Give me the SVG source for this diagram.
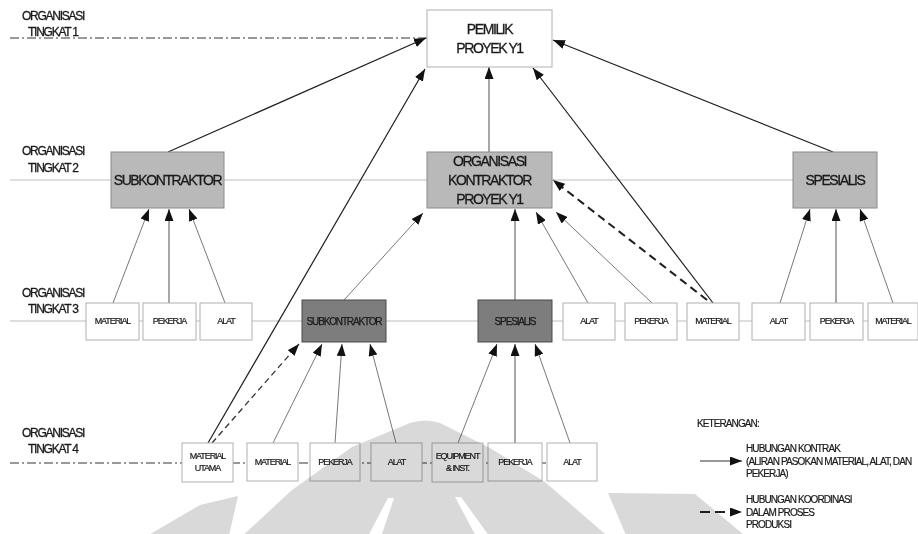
<svg xmlns="http://www.w3.org/2000/svg" width="918" height="534" viewBox="0 0 918 534">
<style>
text{font-family:"Liberation Sans",Arial,sans-serif;fill:#1a1a1a;stroke:#1a1a1a;stroke-width:0.3px;}
.lvl{font-size:12px;letter-spacing:-1.25px;}
.big{font-size:14px;letter-spacing:-1.4px;text-anchor:middle;}
.sm{font-size:9px;letter-spacing:-1.1px;text-anchor:middle;stroke-width:0.2px;}
.sk3{font-size:10px;letter-spacing:-1.15px;text-anchor:middle;stroke-width:0.25px;}
.leg{font-size:10px;letter-spacing:-0.9px;stroke-width:0.2px;}
.wbox{fill:#fff;stroke:#b0b0b0;stroke-width:1;}
.gbox{fill:#b9b9b9;stroke:#8a8a8a;stroke-width:1;}
.dbox{fill:#7d7d7d;stroke:#4a4a4a;stroke-width:1;}
.main{stroke:#1e1e1e;stroke-width:1.2;fill:none;marker-end:url(#ah);}
.thin{stroke:#555;stroke-width:0.8;fill:none;marker-end:url(#ah);}
.vert{stroke:#7a7a7a;stroke-width:1.3;fill:none;marker-end:url(#ah);}
.dash{stroke:#1e1e1e;stroke-width:2;stroke-dasharray:8 5;fill:none;marker-end:url(#ah);}
.dash2{stroke:#333;stroke-width:1.3;stroke-dasharray:6 4;fill:none;marker-end:url(#ah);}
.dd{stroke:#333;stroke-width:1;stroke-dasharray:9 3 2 3;fill:none;}
.sl{stroke:#bdbdbd;stroke-width:1.2;fill:none;}
</style>
<defs>
<marker id="ah" markerUnits="userSpaceOnUse" markerWidth="12" markerHeight="9" refX="12" refY="4.5" orient="auto">
<path d="M0,0 L12,4.5 L0,9 z" fill="#111"/>
</marker>
</defs>
<rect width="918" height="534" fill="#fff"/>

<g id="level-lines">
<line class="dd" x1="10" y1="38" x2="427" y2="38"/>
<line class="sl" x1="10" y1="180" x2="793" y2="180"/>
<line class="sl" x1="10" y1="321" x2="918" y2="321"/>
<line class="dd" x1="10" y1="463" x2="547" y2="463"/>
</g>

<g id="level-labels">
<text class="lvl" x="22" y="20">ORGANISASI</text>
<text class="lvl" x="28" y="36">TINGKAT 1</text>
<text class="lvl" x="22" y="155">ORGANISASI</text>
<text class="lvl" x="28" y="172">TINGKAT 2</text>
<text class="lvl" x="22" y="297">ORGANISASI</text>
<text class="lvl" x="28" y="313">TINGKAT 3</text>
<text class="lvl" x="22" y="437">ORGANISASI</text>
<text class="lvl" x="28" y="453">TINGKAT 4</text>
</g>

<g id="connectors">
<line class="main" x1="168" y1="152" x2="426" y2="38"/>
<line class="vert" x1="489" y1="152" x2="489" y2="67"/>
<line class="main" x1="833" y1="152" x2="553" y2="40"/>
<line class="main" x1="713" y1="303" x2="533" y2="68"/>
<line class="main" x1="208" y1="443" x2="425" y2="69"/>
<line class="thin" x1="113" y1="303" x2="149" y2="209"/>
<line class="vert" x1="169" y1="303" x2="169" y2="209"/>
<line class="thin" x1="225" y1="303" x2="189" y2="209"/>
<line class="thin" x1="344" y1="300" x2="423" y2="213"/>
<line class="vert" x1="515" y1="300" x2="515" y2="209"/>
<line class="thin" x1="588" y1="303" x2="536" y2="212"/>
<line class="thin" x1="652" y1="303" x2="556" y2="212"/>
<line class="dash" x1="707" y1="300" x2="553" y2="180"/>
<line class="thin" x1="780" y1="303" x2="810" y2="209"/>
<line class="vert" x1="836" y1="303" x2="836" y2="209"/>
<line class="thin" x1="893" y1="303" x2="860" y2="209"/>
<line class="dash2" x1="212" y1="443" x2="299" y2="344"/>
<line class="thin" x1="273" y1="443" x2="322" y2="344"/>
<line class="thin" x1="335" y1="443" x2="342" y2="344"/>
<line class="thin" x1="396" y1="443" x2="370" y2="344"/>
<line class="thin" x1="458" y1="443" x2="497" y2="344"/>
<line class="vert" x1="515" y1="443" x2="515" y2="344"/>
<line class="thin" x1="570" y1="443" x2="535" y2="344"/>
</g>

<g id="pemilik"><rect class="wbox" x="427" y="10" width="125" height="57"/>
<text class="big" x="489.5" y="34">PEMILIK</text><text class="big" x="489.5" y="53">PROYEK Y1</text></g>

<g id="subkontraktor-2"><rect class="gbox" x="111" y="152" width="113" height="56"/>
<text class="big" x="167.5" y="185">SUBKONTRAKTOR</text></g>
<g id="kontraktor"><rect class="gbox" x="427" y="152" width="125" height="56"/>
<text class="big" x="489.5" y="165.5">ORGANISASI</text><text class="big" x="489.5" y="185">KONTRAKTOR</text><text class="big" x="489.5" y="204">PROYEK Y1</text></g>
<g id="spesialis-2"><rect class="gbox" x="793" y="152" width="84" height="56"/>
<text class="big" x="835" y="185">SPESIALIS</text></g>

<g id="l3-material-a"><rect class="wbox" x="86" y="303" width="53" height="37"/><text class="sm" x="112.5" y="324">MATERIAL</text></g>
<g id="l3-pekerja-a"><rect class="wbox" x="143" y="303" width="53" height="37"/><text class="sm" x="169.5" y="324">PEKERJA</text></g>
<g id="l3-alat-a"><rect class="wbox" x="200" y="303" width="52" height="37"/><text class="sm" x="226" y="324">ALAT</text></g>
<g id="subkontraktor-3"><rect class="dbox" x="302" y="300" width="84" height="42"/><text class="sk3" x="344" y="325">SUBKONTRAKTOR</text></g>
<g id="spesialis-3"><rect class="dbox" x="478" y="300" width="74" height="42"/><text class="sk3" x="515" y="325">SPESIALIS</text></g>
<g id="l3-alat-b"><rect class="wbox" x="563" y="303" width="52" height="37"/><text class="sm" x="589" y="324">ALAT</text></g>
<g id="l3-pekerja-b"><rect class="wbox" x="625" y="303" width="52" height="37"/><text class="sm" x="651" y="324">PEKERJA</text></g>
<g id="l3-material-b"><rect class="wbox" x="687" y="303" width="52" height="37"/><text class="sm" x="713" y="324">MATERIAL</text></g>
<g id="l3-alat-c"><rect class="wbox" x="752" y="303" width="53" height="37"/><text class="sm" x="778.5" y="324">ALAT</text></g>
<g id="l3-pekerja-c"><rect class="wbox" x="810" y="303" width="53" height="37"/><text class="sm" x="836.5" y="324">PEKERJA</text></g>
<g id="l3-material-c"><rect class="wbox" x="868" y="303" width="50" height="37"/><text class="sm" x="893" y="324">MATERIAL</text></g>

<g id="l4-material-utama"><rect class="wbox" x="182" y="443" width="51" height="39"/><text class="sm" x="207.5" y="459">MATERIAL</text><text class="sm" x="207.5" y="471">UTAMA</text></g>
<g id="l4-material"><rect class="wbox" x="247" y="443" width="51" height="38"/><text class="sm" x="272.5" y="465">MATERIAL</text></g>
<g id="l4-pekerja-a"><rect class="wbox" x="310" y="443" width="50" height="38"/><text class="sm" x="335" y="465">PEKERJA</text></g>
<g id="l4-alat-a"><rect class="wbox" x="371" y="443" width="51" height="38"/><text class="sm" x="396.5" y="465">ALAT</text></g>
<g id="l4-equipment"><rect class="wbox" x="432" y="443" width="51" height="39"/><text class="sm" x="457.5" y="459">EQUIPMENT</text><text class="sm" x="457.5" y="471">&amp; INST.</text></g>
<g id="l4-pekerja-b"><rect class="wbox" x="488" y="443" width="54" height="38"/><text class="sm" x="515" y="465">PEKERJA</text></g>
<g id="l4-alat-b"><rect class="wbox" x="547" y="443" width="50" height="38"/><text class="sm" x="572" y="465">ALAT</text></g>

<g id="legend">
<text class="leg" x="697" y="427">KETERANGAN:</text>
<line x1="700" y1="461" x2="742" y2="461" stroke="#333" stroke-width="1" marker-end="url(#ah)"/>
<text class="leg" x="746" y="452">HUBUNGAN KONTRAK</text>
<text class="leg" x="746" y="465">(ALIRAN PASOKAN MATERIAL, ALAT, DAN</text>
<text class="leg" x="746" y="477">PEKERJA)</text>
<line x1="700" y1="512" x2="742" y2="512" stroke="#222" stroke-width="2" stroke-dasharray="10 5" marker-end="url(#ah)"/>
<text class="leg" x="746" y="503">HUBUNGAN KOORDINASI</text>
<text class="leg" x="746" y="516">DALAM PROSES</text>
<text class="leg" x="746" y="528">PRODUKSI</text>
</g>

<g id="watermark" style="mix-blend-mode:multiply" fill="#d9d9d9" fill-rule="evenodd">
<path d="M140,540 L200,505 L238,496 L228,540 Z"/>
<path d="M238,540 L292,490 L352,447 L410,423 Q425,418 440,423 L490,448 L545,482 L612,540 Z M388,498 L394,498 L380,540 L366,540 Z M455,497 L461,497 L492,540 L478,540 Z"/>
<path d="M608,493 L695,494 L750,540 L628,540 Z"/>
</g>
</svg>
